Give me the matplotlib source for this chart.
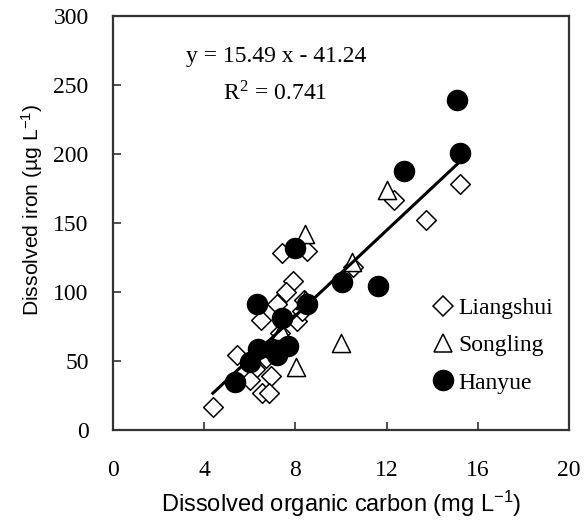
import numpy as np
import matplotlib
matplotlib.use("Agg")
import matplotlib.pyplot as plt
from matplotlib.lines import Line2D

# Data
liangshui_x = [15.24, 12.32, 13.71, 7.43, 8.52, 10.54, 7.91, 7.58, 7.18, 8.38, 6.48, 8.06,
               8.30, 5.46, 6.71, 6.23, 6.01, 6.92, 6.55, 6.86, 4.38, 7.33]
liangshui_y = [178, 167, 152, 128, 130, 118, 108, 100, 91, 94, 80, 79,
               86, 54, 52, 44, 36, 39, 27, 27, 17, 70]
songling_x = [12.03, 8.42, 10.47, 9.99, 8.03, 8.40, 7.35]
songling_y = [174, 142, 122, 63, 46, 94, 72]
hanyue_x = [15.07, 15.24, 12.76, 7.98, 10.06, 11.64, 6.31, 8.50, 7.40, 6.38, 6.96, 7.69,
            7.18, 6.01, 5.36]
hanyue_y = [239, 201, 188, 132, 107, 104, 91, 91, 81, 59, 59, 61, 54, 49, 35]

slope, intercept = 15.49, -41.24
r2 = 0.741

x_ticks = [0, 4, 8, 12, 16, 20]
y_ticks = [0, 50, 100, 150, 200, 250, 300]

plt.rcParams["mathtext.fontset"] = "custom"
plt.rcParams["mathtext.rm"] = "Liberation Sans"
plt.rcParams["mathtext.it"] = "Liberation Sans"
plt.rcParams["mathtext.bf"] = "Liberation Sans:bold"

serif = ["Liberation Serif", "DejaVu Serif"]
sans = ["Liberation Sans", "DejaVu Sans"]

fig = plt.figure(figsize=(5.86, 5.20), dpi=100)
ax = fig.add_axes([0.1928, 0.1731, 0.7782, 0.7962])

ax.scatter(liangshui_x, liangshui_y, marker="D", s=100, facecolor="white",
           edgecolor="black", linewidth=1.1, zorder=3)
ax.scatter(songling_x, songling_y, marker="^", s=170, facecolor="white",
           edgecolor="black", linewidth=1.1, zorder=3)
ax.scatter(hanyue_x, hanyue_y, marker="o", s=210, facecolor="black",
           edgecolor="black", zorder=4)

all_x = np.array(liangshui_x + songling_x + hanyue_x)
xl = np.array([all_x.min(), all_x.max()])
ax.plot(xl, slope * xl + intercept, color="black", lw=2.2, zorder=5)

ax.text(0.357, 0.889, f"y = {slope:.2f} x - {abs(intercept):.2f}", transform=ax.transAxes,
        ha="center", va="baseline", fontsize=17, family=serif)
ax.text(0.355, 0.797, r"R$^{\mathregular{2}}$" + f" = {r2:.3f}", transform=ax.transAxes,
        ha="center", va="baseline", fontsize=17, family=serif, math_fontfamily="stix")

ax.set_xlim(0, 20)
ax.set_ylim(0, 300)
ax.set_xticks(x_ticks)
ax.set_yticks(y_ticks)
ax.set_xticklabels([str(t) for t in x_ticks], family=serif, fontsize=17)
ax.set_yticklabels([str(t) for t in y_ticks], family=serif, fontsize=17)
ax.tick_params(direction="in", length=6, width=1.2, color="#333333")
ax.tick_params(axis="x", pad=21.5)
ax.tick_params(axis="y", pad=17.5)
for sp in ax.spines.values():
    sp.set_linewidth(1.6)
    sp.set_color("#333333")

ax.set_xlabel(r"Dissolved organic carbon (mg L$^{\mathregular{-1}}$)", family=sans, fontsize=17)
ax.set_ylabel(r"Dissolved iron (µg L$^{\mathregular{-1}}$)", family=sans, fontsize=15.2)
ax.xaxis.set_label_coords(0.5015, -0.142)
ax.yaxis.set_label_coords(-0.150, 0.531)

handles = [
    Line2D([], [], marker="D", ls="none", ms=10, mfc="white", mec="black", mew=1.1),
    Line2D([], [], marker="^", ls="none", ms=13, mfc="white", mec="black", mew=1.1),
    Line2D([], [], marker="o", ls="none", ms=14.5, mfc="black", mec="black"),
]
leg = ax.legend(handles, ["Liangshui", "Songling", "Hanyue"], loc="center left",
                bbox_to_anchor=(0.677, 0.204), frameon=False, handlelength=0.8,
                handletextpad=0.25, labelspacing=0.67, borderpad=0,
                prop={"family": serif, "size": 17})

fig.savefig("out.png", dpi=100)
